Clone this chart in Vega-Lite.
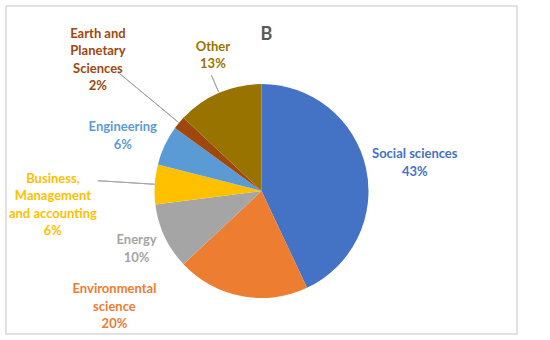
{
  "$schema": "https://vega.github.io/schema/vega-lite/v6.json",
  "width": 511,
  "height": 328,
  "autosize": "none",
  "padding": {"left": 6, "top": 6, "right": 33, "bottom": 6},
  "background": "white",
  "view": {"stroke": "#D9D9D9", "strokeWidth": 1.5, "fill": "white"},
  "config": {
    "view": {"stroke": "#D9D9D9", "strokeWidth": 1.5},
    "font": "Lato"
  },
  "title": {
    "text": "B",
    "font": "Lato",
    "fontSize": 18,
    "fontWeight": "bold",
    "color": "#595959",
    "anchor": "middle",
    "baseline": "alphabetic",
    "offset": -52,
    "dx": 5
  },
  "data": {
    "values": [
      {"idx": 1, "category": "Social sciences", "share": 43, "label": "Social sciences|43%"},
      {"idx": 2, "category": "Environmental science", "share": 20, "label": "Environmental|science|20%"},
      {"idx": 3, "category": "Energy", "share": 10, "label": "Energy|10%"},
      {"idx": 4, "category": "Business, Management and accounting", "share": 6, "label": "Business,|Management|and accounting|6%"},
      {"idx": 5, "category": "Engineering", "share": 6, "label": "Engineering|6%"},
      {"idx": 6, "category": "Earth and Planetary Sciences", "share": 2, "label": "Earth and|Planetary|Sciences|2%"},
      {"idx": 7, "category": "Other", "share": 13, "label": "Other|13%"}
    ]
  },
  "transform": [
    {"window": [{"op": "sum", "field": "share", "as": "cum"}], "sort": [{"field": "idx"}], "frame": [null, 0]},
    {"calculate": "datum.cum - datum.share / 2", "as": "mid"}
  ],
  "encoding": {
    "color": {
      "field": "category",
      "type": "nominal",
      "legend": null,
      "scale": {
        "domain": ["Social sciences", "Environmental science", "Energy", "Business, Management and accounting", "Engineering", "Earth and Planetary Sciences", "Other"],
        "range": ["#4472C4", "#ED7D31", "#A5A5A5", "#FFC000", "#5B9BD5", "#9E480E", "#997300"]
      }
    }
  },
  "layer": [
    {
      "mark": {"type": "arc", "radius": 107, "yOffset": 21},
      "encoding": {
        "theta": {"field": "share", "type": "quantitative", "stack": true, "scale": {"domain": [0, 100]}},
        "order": {"field": "idx", "type": "quantitative"}
      }
    },
    {
      "transform": [{"filter": "datum.category === 'Earth and Planetary Sciences'"}],
      "mark": {"type": "arc", "radius": 186, "radius2": 108, "yOffset": 21, "fill": null, "stroke": "#A6A6A6", "strokeWidth": 1},
      "encoding": {
        "color": {"value": null},
        "theta": {"field": "mid", "type": "quantitative", "stack": null, "scale": {"domain": [0, 100]}},
        "theta2": {"field": "mid"}
      }
    },
    {
      "transform": [{"filter": "datum.category === 'Other'"}],
      "mark": {"type": "arc", "radius": 126, "radius2": 108, "yOffset": 21, "fill": null, "stroke": "#A6A6A6", "strokeWidth": 1},
      "encoding": {
        "color": {"value": null},
        "theta": {"field": "mid", "type": "quantitative", "stack": null, "scale": {"domain": [0, 100]}},
        "theta2": {"field": "mid"}
      }
    },
    {
      "transform": [{"filter": "datum.category === 'Business, Management and accounting'"}],
      "mark": {"type": "arc", "radius": 164, "radius2": 107, "yOffset": 21, "fill": null, "stroke": "#A6A6A6", "strokeWidth": 1},
      "encoding": {
        "color": {"value": null},
        "theta": {"field": "mid", "type": "quantitative", "stack": null, "scale": {"domain": [0, 100]}},
        "theta2": {"field": "mid"}
      }
    },
    {
      "transform": [{"filter": "datum.category === 'Social sciences'"}],
      "mark": {"type": "text", "radius": 155, "dx": 2, "dy": -3, "yOffset": 21, "fontSize": 13, "fontWeight": "bold", "lineBreak": "|", "lineHeight": 17.5, "align": "center", "baseline": "middle"},
      "encoding": {
        "theta": {"field": "mid", "type": "quantitative", "stack": null, "scale": {"domain": [0, 100]}},
        "text": {"field": "label"}
      }
    },
    {
      "transform": [{"filter": "datum.category === 'Other'"}],
      "mark": {"type": "text", "radius": 145, "dx": 9, "dy": -11, "yOffset": 21, "fontSize": 13, "fontWeight": "bold", "lineBreak": "|", "lineHeight": 17.5, "align": "center", "baseline": "middle"},
      "encoding": {
        "theta": {"field": "mid", "type": "quantitative", "stack": null, "scale": {"domain": [0, 100]}},
        "text": {"field": "label"}
      }
    },
    {
      "transform": [{"filter": "datum.category === 'Earth and Planetary Sciences'"}],
      "mark": {"type": "text", "radius": 211, "dx": -1, "dy": -23, "yOffset": 21, "fontSize": 13, "fontWeight": "bold", "lineBreak": "|", "lineHeight": 17.5, "align": "center", "baseline": "middle"},
      "encoding": {
        "theta": {"field": "mid", "type": "quantitative", "stack": null, "scale": {"domain": [0, 100]}},
        "text": {"field": "label"}
      }
    },
    {
      "transform": [{"filter": "datum.category === 'Engineering'"}],
      "mark": {"type": "text", "radius": 150, "dx": -3, "dy": 0, "yOffset": 21, "fontSize": 13, "fontWeight": "bold", "lineBreak": "|", "lineHeight": 17.5, "align": "center", "baseline": "middle"},
      "encoding": {
        "theta": {"field": "mid", "type": "quantitative", "stack": null, "scale": {"domain": [0, 100]}},
        "text": {"field": "label"}
      }
    },
    {
      "transform": [{"filter": "datum.category === 'Business, Management and accounting'"}],
      "mark": {"type": "text", "radius": 209, "dx": 0, "dy": 1, "yOffset": 21, "fontSize": 13, "fontWeight": "bold", "lineBreak": "|", "lineHeight": 17.5, "align": "center", "baseline": "middle"},
      "encoding": {
        "theta": {"field": "mid", "type": "quantitative", "stack": null, "scale": {"domain": [0, 100]}},
        "text": {"field": "label"}
      }
    },
    {
      "transform": [{"filter": "datum.category === 'Energy'"}],
      "mark": {"type": "text", "radius": 137, "dx": -1, "dy": -9, "yOffset": 21, "fontSize": 13, "fontWeight": "bold", "lineBreak": "|", "lineHeight": 17.5, "align": "center", "baseline": "middle"},
      "encoding": {
        "theta": {"field": "mid", "type": "quantitative", "stack": null, "scale": {"domain": [0, 100]}},
        "text": {"field": "label"}
      }
    },
    {
      "transform": [{"filter": "datum.category === 'Environmental science'"}],
      "mark": {"type": "text", "radius": 107, "dx": -127, "dy": -7, "yOffset": 21, "fontSize": 13, "fontWeight": "bold", "lineBreak": "|", "lineHeight": 17.5, "align": "center", "baseline": "middle"},
      "encoding": {
        "theta": {"field": "mid", "type": "quantitative", "stack": null, "scale": {"domain": [0, 100]}},
        "text": {"field": "label"}
      }
    }
  ]
}
